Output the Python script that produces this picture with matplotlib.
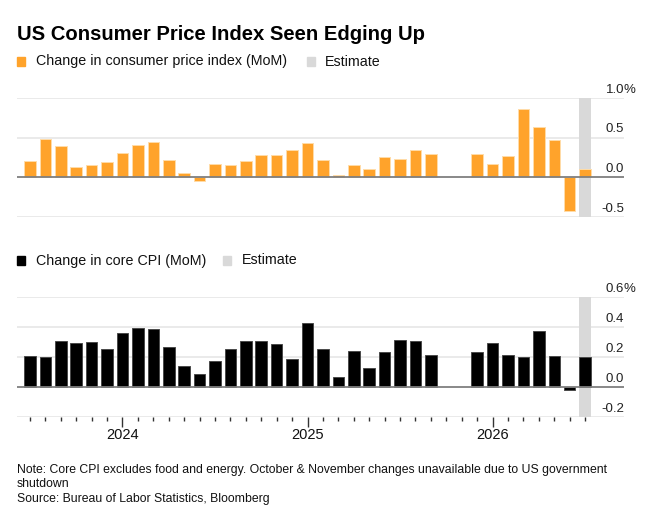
import matplotlib
matplotlib.use("Agg")
import matplotlib.pyplot as plt
import numpy as np
from matplotlib.patches import Rectangle

plt.rcParams['font.family'] = ['Liberation Sans', 'DejaVu Sans']

# Months Jul 2023 .. Jul 2026 (index 0..36); Oct & Nov 2025 unavailable
months = ["Jul 2023", "Aug 2023", "Sep 2023", "Oct 2023", "Nov 2023", "Dec 2023",
          "Jan 2024", "Feb 2024", "Mar 2024", "Apr 2024", "May 2024", "Jun 2024",
          "Jul 2024", "Aug 2024", "Sep 2024", "Oct 2024", "Nov 2024", "Dec 2024",
          "Jan 2025", "Feb 2025", "Mar 2025", "Apr 2025", "May 2025", "Jun 2025",
          "Jul 2025", "Aug 2025", "Sep 2025", "Oct 2025", "Nov 2025", "Dec 2025",
          "Jan 2026", "Feb 2026", "Mar 2026", "Apr 2026", "May 2026", "Jun 2026",
          "Jul 2026"]
cpi = [0.20, 0.48, 0.39, 0.13, 0.15, 0.19, 0.31, 0.41, 0.44, 0.22, 0.05, -0.05,
       0.17, 0.16, 0.21, 0.28, 0.28, 0.34, 0.43, 0.22, 0.03, 0.16, 0.10, 0.26,
       0.23, 0.35, 0.29, None, None, 0.30, 0.17, 0.27, 0.86, 0.64, 0.47, -0.43,
       0.10]
core = [0.205, 0.20, 0.31, 0.296, 0.298, 0.256, 0.358, 0.396, 0.389, 0.269, 0.138, 0.089,
        0.171, 0.253, 0.305, 0.309, 0.287, 0.185, 0.425, 0.253, 0.067, 0.238, 0.129, 0.233,
        0.311, 0.309, 0.216, None, None, 0.231, 0.296, 0.216, 0.198, 0.376, 0.207, -0.017,
        0.20]
estimate_month = "Jul 2026"
year_labels = {"Jan 2024": "2024", "Jan 2025": "2025", "Jan 2026": "2026"}

top_ticks = [-0.5, 0.0, 0.5, 1.0]
bot_ticks = [-0.2, 0.0, 0.2, 0.4, 0.6]

ORANGE = "#ffa32b"
ORANGE_EDGE = "#ffdca8"
BLACK = "#000000"
BLACK_EDGE = "#4a4a4a"
GRID = "#e6e6e6"
ZERO = "#7f7f7f"
EST = "#d9d9d9"

W, H = 660, 523
fig = plt.figure(figsize=(W / 100, H / 100), dpi=100)

def ax_rect(x0, y0, x1, y1):
    return [x0 / W, 1 - y1 / H, (x1 - x0) / W, (y1 - y0) / H]

ax1 = fig.add_axes(ax_rect(17, 98, 624, 217))
ax2 = fig.add_axes(ax_rect(17, 297, 624, 417))

x = np.arange(len(months))
est_idx = months.index(estimate_month)
bw = 0.75
xlim = (-0.84, 38.52)

def draw(ax, vals, color, edge, ticks, ylim):
    ax.set_xlim(*xlim)
    ax.set_ylim(*ylim)
    for t in ticks:
        if t != 0:
            ax.axhline(t, color=GRID, lw=1.2, zorder=0)
    ax.axvspan(est_idx - bw / 2, est_idx + bw / 2, color=EST, lw=0, zorder=0.5)
    xs = [i for i, v in enumerate(vals) if v is not None]
    vs = [vals[i] for i in xs]
    ax.bar(xs, vs, width=bw, color=color, edgecolor=edge, linewidth=0.7, zorder=2)
    ax.axhline(0, color=ZERO, lw=1.3, zorder=3)
    for s in ax.spines.values():
        s.set_visible(False)
    ax.set_yticks([])
    ax.tick_params(axis='x', which='both', length=0, labelbottom=False)
    ax.set_xticks([])
    # tick labels at right, above gridlines
    for t in ticks:
        yfrac = (t - ylim[0]) / (ylim[1] - ylim[0])
        lab = f"{t:.1f}"
        ax.text(1.0, yfrac + 0.02, lab, transform=ax.transAxes, ha='right', va='bottom',
                fontsize=9.5, color="#222222")
    ax.text(1.0, 1.02, "%", transform=ax.transAxes, ha='left', va='bottom',
            fontsize=9.5, color="#222222")

draw(ax1, cpi, ORANGE, ORANGE_EDGE, top_ticks, (-0.5, 1.0))
draw(ax2, core, BLACK, BLACK_EDGE, bot_ticks, (-0.2, 0.6))

# x ticks on bottom axes
ax2.set_xticks([months.index(m) for m in year_labels], minor=False)
minor = [i for i in x if months[i] not in year_labels]
ax2.set_xticks(minor, minor=True)
ax2.set_xticklabels(list(year_labels.values()))
ax2.tick_params(axis='x', which='major', length=7, width=1.0, color="#333333",
                labelbottom=True, labelsize=10.5, pad=1, labelcolor="#111111")
ax2.tick_params(axis='x', which='minor', length=3, width=1.0, color="#333333")

# Title and legends
fig.text(17 / W, 1 - 34 / H, "US Consumer Price Index Seen Edging Up", fontsize=14.6,
         fontweight='bold', ha='left', va='center', color="#000000")

def legend(y, items):
    for (x0, color, xt, label) in items:
        fig.patches.append(Rectangle((x0 / W, 1 - (y + 4.3) / H), 8 / W, 8.5 / H,
                                     transform=fig.transFigure, color=color,
                                     figure=fig))
        fig.text(xt / W, 1 - y / H, label, fontsize=10.3, ha='left', va='center',
                 color="#111111")

legend(61.5, [(17, ORANGE, 36, "Change in consumer price index (MoM)"),
              (306.5, EST, 325, "Estimate")])
legend(260.5, [(17, BLACK, 36, "Change in core CPI (MoM)"),
               (223, EST, 241.5, "Estimate")])

fig.text(17 / W, 1 - 470 / H,
         "Note: Core CPI excludes food and energy. October & November changes unavailable due to US government",
         fontsize=8.85, ha='left', va='center', color="#111111")
fig.text(17 / W, 1 - 484 / H, "shutdown", fontsize=8.85, ha='left', va='center', color="#111111")
fig.text(17 / W, 1 - 499 / H, "Source: Bureau of Labor Statistics, Bloomberg",
         fontsize=8.85, ha='left', va='center', color="#111111")

fig.savefig("out.png", dpi=100)
